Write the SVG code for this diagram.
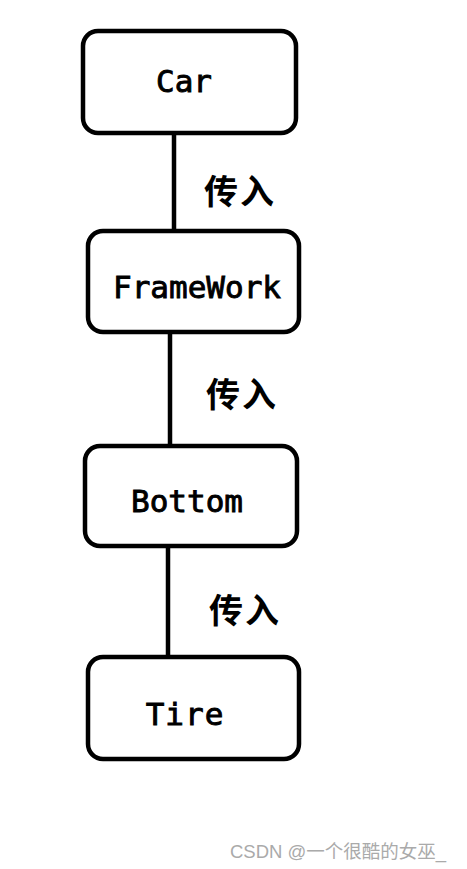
<svg xmlns="http://www.w3.org/2000/svg" width="467" height="869" viewBox="0 0 467 869">
<style>
.box{fill:#fff;stroke:#000;stroke-width:4.5}
.lbl{font-family:"DejaVu Sans Mono","Liberation Mono",monospace;font-size:31px;fill:#000;stroke:#000;stroke-width:0.9;text-anchor:middle}
.edge{stroke:#000;stroke-width:4.5;fill:none}
.cn{font-family:"Noto Sans CJK SC",sans-serif;font-size:34px;font-weight:bold;fill:#000;letter-spacing:2px}
.wm{font-family:"Liberation Sans","Noto Sans CJK SC",sans-serif;font-size:18.5px;fill:#aaa}
</style>
<rect width="467" height="869" fill="#fff"/>
<g id="connectors">
<line class="edge" x1="174" y1="133" x2="174" y2="236"/>
<line class="edge" x1="170" y1="331" x2="170" y2="450"/>
<line class="edge" x1="168" y1="546" x2="168" y2="662"/>
<text class="cn" x="204" y="204">传入</text>
<text class="cn" x="206" y="407">传入</text>
<text class="cn" x="209" y="623">传入</text>
</g>
<g id="car"><rect class="box" x="83" y="31" width="213" height="102" rx="15"/><text class="lbl" x="184" y="92">Car</text></g>
<g id="framework"><rect class="box" x="88" y="231" width="211" height="101" rx="15"/><text class="lbl" x="197" y="298">FrameWork</text></g>
<g id="bottom"><rect class="box" x="85" y="446" width="212" height="100" rx="15"/><text class="lbl" x="187" y="512">Bottom</text></g>
<g id="tire"><rect class="box" x="88" y="657" width="211" height="102" rx="15"/><text class="lbl" x="185" y="725" letter-spacing="1">Tire</text></g>
<text class="wm" x="230" y="858">CSDN @一个很酷的女巫_</text>
</svg>
